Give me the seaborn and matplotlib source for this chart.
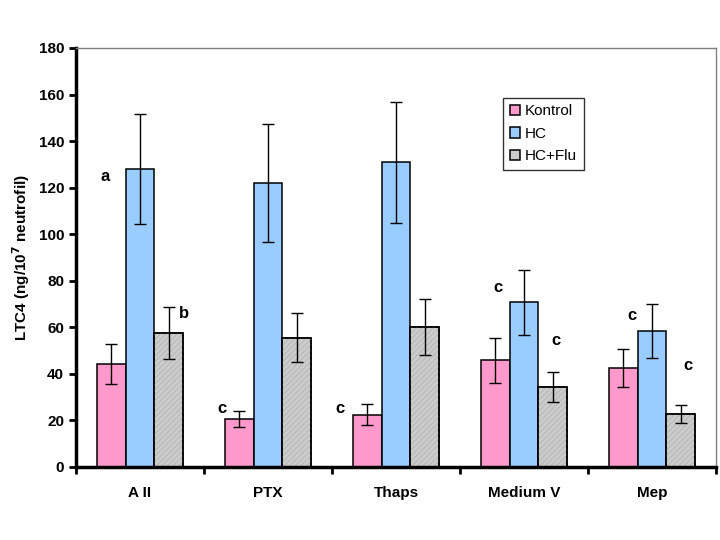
import pandas as pd
import numpy as np
import seaborn as sns
import matplotlib.pyplot as plt
from matplotlib.patches import Rectangle

# data
kategori = ['A II', 'PTX', 'Thaps', 'Medium V', 'Mep']
grup = ['Kontrol', 'HC', 'HC+Flu']
kontrol = [44.2, 20.5, 22.5, 45.8, 42.4]
hc = [128.0, 122.0, 131.0, 70.7, 58.3]
hc_flu = [57.5, 55.5, 60.0, 34.4, 22.6]
kontrol_err = [8.6, 3.5, 4.5, 9.5, 8.1]
hc_err = [23.6, 25.5, 26.0, 13.8, 11.6]
hc_flu_err = [11.2, 10.5, 12.0, 6.3, 3.9]

# significance letters: (text, category index, offset, y)
huruf = ['a', 'b', 'c', 'c', 'c', 'c', 'c', 'c']
huruf_kat = [0, 0, 1, 2, 3, 3, 4, 4]
huruf_off = [-0.27, 0.34, -0.36, -0.44, -0.20, 0.25, -0.16, 0.28]
huruf_y = [125, 66, 25, 25, 77, 54.5, 65, 43.4]

df = pd.DataFrame({
    'kategori': kategori * 3,
    'grup': [g for g in grup for _ in kategori],
    'nilai': kontrol + hc + hc_flu,
})
errs = [kontrol_err, hc_err, hc_flu_err]

plt.rcParams['font.family'] = ['Liberation Sans', 'DejaVu Sans']
plt.rcParams['hatch.linewidth'] = 0.6

fig = plt.figure(figsize=(7.2, 5.4), dpi=100)
ax = fig.add_axes([76 / 720, 73 / 540, 640 / 720, 419 / 540])

warna = ['#FF99CC', '#99CCFF', '#CCCCCC']
sns.barplot(data=df, x='kategori', y='nilai', hue='grup', palette=warna,
            width=0.67, errorbar=None, edgecolor='black', linewidth=1.1,
            saturation=1, ax=ax)

# light diagonal hatch on the HC+Flu bars (overlay so the outline stays black)
for b in ax.containers[2]:
    ax.add_patch(Rectangle(b.get_xy(), b.get_width(), b.get_height(), fill=False,
                           hatch='//////', edgecolor='#b2b2b2', linewidth=0, zorder=b.get_zorder() + 0.1))
    b.set_zorder(b.get_zorder())

for cont, e in zip(ax.containers, errs):
    xs = [b.get_x() + b.get_width() / 2 for b in cont]
    ys = [b.get_height() for b in cont]
    ax.errorbar(xs, ys, yerr=e, fmt='none', ecolor='black', elinewidth=1,
                capsize=4, capthick=1, zorder=5)

# redraw outlines on top of the hatch
for b in ax.containers[2]:
    ax.add_patch(Rectangle(b.get_xy(), b.get_width(), b.get_height(), fill=False,
                           edgecolor='black', linewidth=1.1, zorder=b.get_zorder() + 0.2))

for t, k, o, y in zip(huruf, huruf_kat, huruf_off, huruf_y):
    ax.text(k + o, y, t, ha='center', va='center', fontsize=12, fontweight='bold')

ax.set_xlim(-0.5, 4.5)
ax.set_ylim(0, 180)
ax.set_yticks(np.arange(0, 181, 20))
ax.set_xticks(range(5))
ax.set_xticklabels(kategori, fontsize=11, fontweight='bold')
ax.set_xticks(np.arange(-0.5, 5, 1), minor=True)
ax.tick_params(axis='x', which='major', length=0, pad=14)
ax.tick_params(axis='x', which='minor', length=5, width=2, direction='out')
ax.tick_params(axis='y', length=5, width=2, labelsize=11, direction='out')
for lab in ax.get_yticklabels():
    lab.set_fontweight('bold')
ax.set_xlabel('')
ax.set_ylabel('LTC4 (ng/10$^\\mathbf{7}$ neutrofil)', fontsize=11, fontweight='bold', labelpad=5)

for s in ['left', 'bottom']:
    ax.spines[s].set_linewidth(2.5)
    ax.spines[s].set_color('black')
for s in ['top', 'right']:
    ax.spines[s].set_linewidth(1)
    ax.spines[s].set_color('#808080')

ax.legend(loc='upper left', bbox_to_anchor=(0.655, 0.9), frameon=True, fancybox=False,
          edgecolor='black', fontsize=11, handlelength=0.7, handleheight=0.7,
          handletextpad=0.3, borderpad=0.45, labelspacing=0.55, title=None)
ax.get_legend().get_frame().set_linewidth(1)

plt.savefig('out.png', dpi=100)
